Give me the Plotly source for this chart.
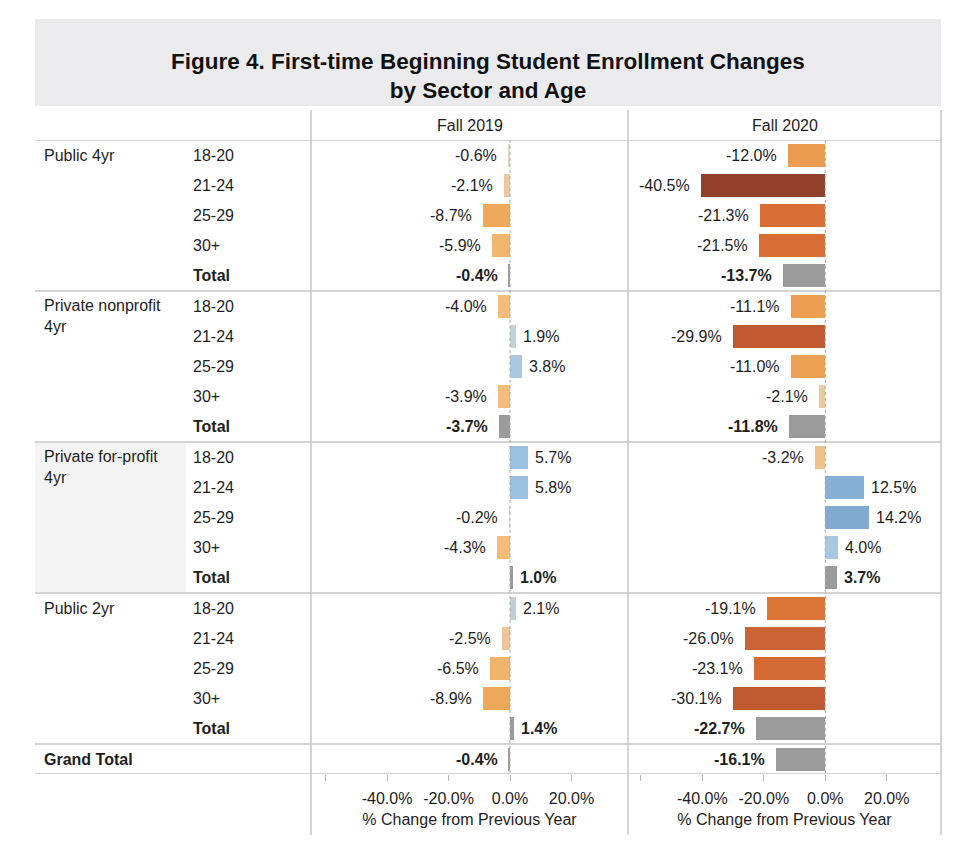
import plotly.graph_objects as go

# ---------------- data ----------------
sectors = ["Public 4yr", "Private nonprofit<br>4yr", "Private for-profit<br>4yr", "Public 2yr"]
ages = ["18-20", "21-24", "25-29", "30+"]
years = ["Fall 2019", "Fall 2020"]

# % change by age group, one list per sector (order as in `sectors`)
fall2019_ages = [
    [-0.6, -2.1, -8.7, -5.9],
    [-4.0, 1.9, 3.8, -3.9],
    [5.7, 5.8, -0.2, -4.3],
    [2.1, -2.5, -6.5, -8.9],
]
fall2020_ages = [
    [-12.0, -40.5, -21.3, -21.5],
    [-11.1, -29.9, -11.0, -2.1],
    [-3.2, 12.5, 14.2, 4.0],
    [-19.1, -26.0, -23.1, -30.1],
]
fall2019_totals = [-0.4, -3.7, 1.0, 1.4]
fall2020_totals = [-13.7, -11.8, 3.7, -22.7]
grand_total = [-0.4, -16.1]  # Fall 2019, Fall 2020

tick_vals = [-60, -40, -20, 0, 20]
tick_text = ["", "-40.0%", "-20.0%", "0.0%", "20.0%"]

# ---------------- styling / geometry ----------------
OFF = 8                      # default page body margin
W, H = 960 - 2 * OFF, 843 - 2 * OFF
FONT = "Liberation Sans, Arial, Helvetica, sans-serif"
TXT = "#1e1e1e"
LINE = "#c6c6c6"
GRAY_BAR = "#9b9b9b"
ROW0, PITCH = 155.0, 30.2
NROWS = 21
colorscale = [
    [0.0, "#91402b"], [0.13, "#c05932"], [0.18, "#cb6336"], [0.236, "#d86e35"],
    [0.27, "#dd783a"], [0.352, "#eb9c50"], [0.40, "#efab5f"], [0.45, "#f4bd7a"],
    [0.474, "#eac8a0"], [0.493, "#e4d5c3"], [0.5, "#dddbd8"], [0.523, "#bfd1da"],
    [0.547, "#a8c9e1"], [0.57, "#9cc1e0"], [0.66, "#84afd3"], [0.68, "#7fa9cf"],
    [1.0, "#2b5c8a"],
]


def px(x):
    return (x - OFF) / W


def py(y):
    return 1 - (y - OFF) / H


top_px = ROW0 - 0.5 * PITCH
bot_px = ROW0 + (NROWS - 0.5) * PITCH

panel_px = [(311, 628), (628, 941)]
SCALE = 3.075  # px per percentage point
zero_px = [510.0, 825.3]

fig = go.Figure()
annotations = []
shapes = []

year_ages = [fall2019_ages, fall2020_ages]
year_totals = [fall2019_totals, fall2020_totals]

for p in range(2):
    xa = "x" if p == 0 else "x2"
    age_rows, age_vals, tot_rows, tot_vals = [], [], [], []
    for s in range(len(sectors)):
        for k in range(len(ages)):
            age_rows.append(s * 5 + k)
            age_vals.append(year_ages[p][s][k])
        tot_rows.append(s * 5 + 4)
        tot_vals.append(year_totals[p][s])
    tot_rows.append(20)
    tot_vals.append(grand_total[p])

    fig.add_trace(go.Bar(
        x=age_vals, y=age_rows, orientation="h", width=0.76,
        marker=dict(color=age_vals, colorscale=colorscale, cmin=-40.5, cmax=40.5,
                    showscale=False, line=dict(width=0)),
        xaxis=xa, yaxis="y", showlegend=False, hoverinfo="skip",
    ))
    fig.add_trace(go.Bar(
        x=tot_vals, y=tot_rows, orientation="h", width=0.76,
        marker=dict(color=GRAY_BAR, line=dict(width=0)),
        xaxis=xa, yaxis="y", showlegend=False, hoverinfo="skip",
    ))

    for r, v in zip(age_rows, age_vals):
        annotations.append(dict(
            x=v, y=r, xref=xa, yref="y", text=f"{v:.1f}%", showarrow=False,
            xanchor="right" if v < 0 else "left", xshift=-9 if v < 0 else 5,
            font=dict(size=16, color=TXT, family=FONT)))
    for r, v in zip(tot_rows, tot_vals):
        annotations.append(dict(
            x=v, y=r, xref=xa, yref="y", text=f"<b>{v:.1f}%</b>", showarrow=False,
            xanchor="right" if v < 0 else "left", xshift=-9 if v < 0 else 5,
            font=dict(size=16, color=TXT, family=FONT)))

    # header
    annotations.append(dict(
        x=px((panel_px[p][0] + panel_px[p][1]) / 2), y=py(126), xref="paper", yref="paper",
        text=years[p], showarrow=False, xanchor="center", yanchor="middle",
        font=dict(size=16, color=TXT, family=FONT)))

    # dotted zero line
    shapes.append(dict(type="line", xref=xa, yref="y", x0=0, x1=0, y0=-0.5, y1=20.5,
                       line=dict(color="#a8a8a8", width=1, dash="dot"), layer="above"))

# row labels
for s, name in enumerate(sectors):
    if "<br>" in name:
        annotations.append(dict(
            x=px(42), y=s * 5 - 0.36, xref="paper", yref="y", text=name, showarrow=False,
            xanchor="left", yanchor="top", align="left",
            font=dict(size=16, color=TXT, family=FONT)))
    else:
        annotations.append(dict(
            x=px(42), y=s * 5, xref="paper", yref="y", text=name, showarrow=False,
            xanchor="left", yanchor="middle", align="left",
            font=dict(size=16, color=TXT, family=FONT)))
    for k, a in enumerate(ages):
        annotations.append(dict(
            x=px(191), y=s * 5 + k, xref="paper", yref="y", text=a, showarrow=False,
            xanchor="left", yanchor="middle", font=dict(size=16, color=TXT, family=FONT)))
    annotations.append(dict(
        x=px(191), y=s * 5 + 4, xref="paper", yref="y", text="<b>Total</b>", showarrow=False,
        xanchor="left", yanchor="middle", font=dict(size=16, color=TXT, family=FONT)))
annotations.append(dict(
    x=px(42), y=20, xref="paper", yref="y", text="<b>Grand Total</b>", showarrow=False,
    xanchor="left", yanchor="middle", font=dict(size=16, color=TXT, family=FONT)))

# title band
shapes.append(dict(type="rect", xref="paper", yref="paper", x0=px(35), x1=px(941),
                   y0=py(106), y1=py(19), fillcolor="#ebebee", line=dict(width=0), layer="below"))
# highlighted cell
shapes.append(dict(type="rect", xref="paper", yref="y", x0=px(35), x1=px(186),
                   y0=9.53, y1=14.47, fillcolor="#f4f4f4", line=dict(width=0), layer="below"))
# horizontal rules
for yr in [-0.5, 4.5, 9.5, 14.5, 19.5, 20.5]:
    shapes.append(dict(type="line", xref="paper", yref="y", x0=px(35), x1=px(941),
                       y0=yr, y1=yr, line=dict(color=LINE, width=1.5), layer="below"))
# vertical rules
for xv in [311, 628, 941]:
    shapes.append(dict(type="line", xref="paper", yref="paper", x0=px(xv), x1=px(xv),
                       y0=py(835), y1=py(110), line=dict(color=LINE, width=1.5), layer="below"))

axis_common = dict(
    tickvals=tick_vals, ticktext=tick_text, showgrid=False, zeroline=False, showline=False,
    ticks="outside", ticklen=6, tickwidth=1, tickcolor="#b5b5b5",
    tickfont=dict(size=16, color=TXT, family=FONT), ticklabelstandoff=4,
    title=dict(text="% Change from Previous Year", standoff=7,
               font=dict(size=16, color=TXT, family=FONT)),
    fixedrange=True,
)
xr = []
for p in range(2):
    l, r = panel_px[p]
    xr.append([(l - zero_px[p]) / SCALE, (r - zero_px[p]) / SCALE])

fig.update_layout(
    width=W, height=H, margin=dict(l=0, r=0, t=0, b=0, autoexpand=False),
    paper_bgcolor="white", plot_bgcolor="rgba(0,0,0,0)",
    font=dict(family=FONT, size=16, color=TXT),
    barmode="overlay", bargap=0,
    title=dict(text="<b>Figure 4. First-time Beginning Student Enrollment Changes<br>by Sector and Age</b>",
               x=px(488), xanchor="center", y=py(69), yanchor="middle",
               font=dict(size=22.5, color="#111111", family=FONT)),
    xaxis=dict(domain=[px(311), px(628)], range=xr[0], anchor="y", **axis_common),
    xaxis2=dict(domain=[px(628), px(941)], range=xr[1], anchor="y", **axis_common),
    yaxis=dict(domain=[py(bot_px), py(top_px)], range=[20.5, -0.5], showticklabels=False,
               showgrid=False, zeroline=False, showline=False, ticks="", fixedrange=True),
    annotations=annotations, shapes=shapes,
)

fig.write_html("out.html")
